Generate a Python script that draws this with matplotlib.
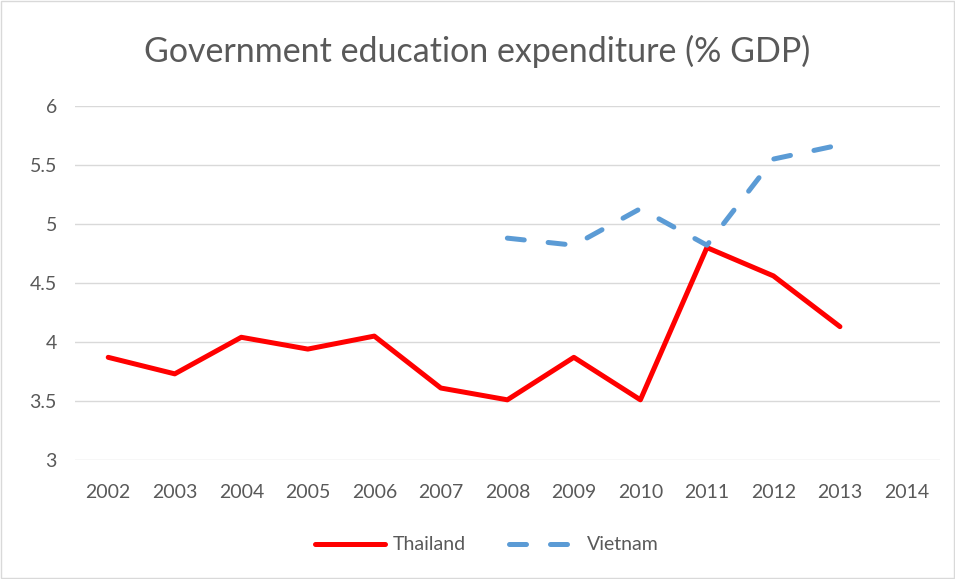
import matplotlib
matplotlib.use("Agg")
import matplotlib.pyplot as plt
from matplotlib.patches import Rectangle

years = ["2002", "2003", "2004", "2005", "2006", "2007", "2008",
         "2009", "2010", "2011", "2012", "2013", "2014"]
thailand = [3.87, 3.73, 4.04, 3.94, 4.05, 3.61, 3.51, 3.87, 3.51, 4.80, 4.56, 4.13]
vietnam_years = ["2008", "2009", "2010", "2011", "2012", "2013"]
vietnam = [4.88, 4.82, 5.13, 4.82, 5.55, 5.67]

plt.rcParams['font.family'] = ['Lato', 'DejaVu Sans']
text_color = '#595959'

fig = plt.figure(figsize=(9.55, 5.79), dpi=100)
ax = fig.add_axes([0.0785, 0.2055, 0.9055, 0.6115])

x_all = list(range(len(years)))
x_th = x_all[:len(thailand)]
x_vn = [years.index(y) for y in vietnam_years]

ax.plot(x_th, thailand, color='#ff0000', lw=3.6, solid_capstyle='round',
        solid_joinstyle='round', label='Thailand', zorder=3)
ax.plot(x_vn, vietnam, color='#5b9bd5', lw=3.6, dashes=(3.4, 4.8),
        dash_capstyle='round', dash_joinstyle='round', label='Vietnam', zorder=3)

ax.set_xlim(-0.5, len(years) - 0.5)
ax.set_ylim(3, 6)
ax.set_yticks([3, 3.5, 4, 4.5, 5, 5.5, 6])
ax.set_yticklabels(['3', '3.5', '4', '4.5', '5', '5.5', '6'])
ax.set_xticks(x_all)
ax.set_xticklabels(years)
ax.grid(axis='y', color='#d9d9d9', lw=1)
ax.set_axisbelow(True)
for s in ax.spines.values():
    s.set_visible(False)
ax.tick_params(length=0, labelsize=14, colors=text_color)
ax.tick_params(axis='x', pad=17)
ax.tick_params(axis='y', pad=13)

fig.text(0.5, 0.912, 'Government education expenditure (% GDP)', ha='center',
         va='center', fontsize=24.5, color=text_color)

leg = fig.legend(loc='center', bbox_to_anchor=(0.510, 0.059), ncol=2, frameon=False,
                 fontsize=14, handlelength=3.6, columnspacing=2.2, handletextpad=0.4)
for t in leg.get_texts():
    t.set_color(text_color)

fig.patches.append(Rectangle((0.001, 0.001), 0.998, 0.998, transform=fig.transFigure,
                             fill=False, edgecolor='#d9d9d9', lw=1))

fig.savefig('out.png', dpi=100)
